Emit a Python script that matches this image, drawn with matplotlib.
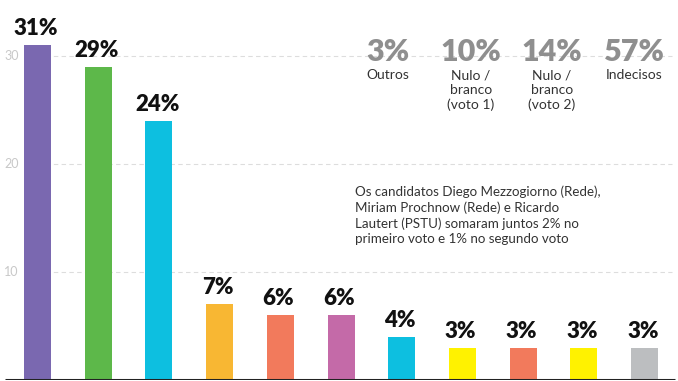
import matplotlib.pyplot as plt

# ── Data ──────────────────────────────────────────────────────────────────────
values = [31, 29, 24, 7, 6, 6, 4, 3, 3, 3, 3]
colors = ['#7a68b0', '#5db84a', '#0dbfe0', '#f8b733', '#f27a5c', '#c46aa8',
          '#0dbfe0', '#fff200', '#f27a5c', '#fff200', '#bcbec0']
yticks = [10, 20, 30]

stat_values = ['3%', '10%', '14%', '57%']
stat_labels = ['Outros', 'Nulo /\nbranco\n(voto 1)', 'Nulo /\nbranco\n(voto 2)', 'Indecisos']

note = ('Os candidatos Diego Mezzogiorno (Rede),\n'
        'Miriam Prochnow (Rede) e Ricardo\n'
        'Lautert (PSTU) somaram juntos 2% no\n'
        'primeiro voto e 1% no segundo voto')

FONT = ['Lato', 'DejaVu Sans']
W, H = 678, 381

fig = plt.figure(figsize=(W / 100, H / 100), dpi=100, facecolor='white')
ax = fig.add_axes([0, 1 / H, 1, 1 - 1 / H])
ax.set_xlim(-0.618, 10.55)
ax.set_ylim(0, 35.2)
ax.axis('off')

x = list(range(len(values)))
ax.bar(x, values, width=0.445, color=colors, zorder=3)

for xi, v in zip(x, values):
    ax.text(xi - 0.03, v + 0.55, f'{v}%', ha='center', va='bottom',
            fontsize=16, fontweight='heavy', color='#111111', family=FONT, zorder=4)

# gridlines and tick labels
for t in yticks:
    ax.plot([-0.13, 10.45], [t, t], color='#dddddd', lw=0.8, ls=(0, (4, 3)), zorder=1)
    ax.text(-0.43, t, str(t), ha='center', va='center', fontsize=9,
            color='#c8c8c8', family=FONT)

# baseline
ax.plot([-0.54, 10.5], [0, 0], color='#222222', lw=2.2, zorder=5,
        solid_capstyle='butt')

# summary numbers (figure pixel coords)
stat_x = [388, 471, 552, 634]
for sx, sv, sl in zip(stat_x, stat_values, stat_labels):
    fig.text(sx / W, 1 - 52 / H, sv, ha='center', va='center', fontsize=22,
             fontweight='heavy', color='#8f8f8f', family=FONT)
    fig.text(sx / W, 1 - 69 / H, sl, ha='center', va='top', fontsize=10,
             color='#333333', family=FONT, linespacing=1.25)

fig.text(355 / W, 1 - 185 / H, note, ha='left', va='top', fontsize=9.6,
         color='#333333', family=FONT, linespacing=1.33)

fig.savefig('out.png', dpi=100, facecolor='white')
